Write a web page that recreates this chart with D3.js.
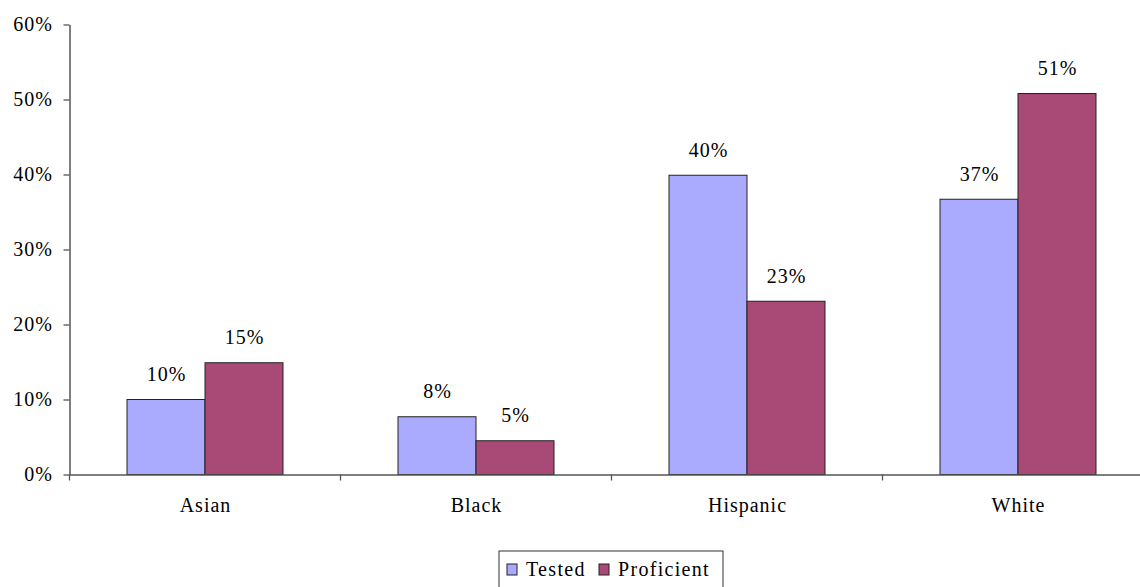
<!DOCTYPE html>
<html>
<head>
<meta charset="utf-8">
<script src="https://cdn.jsdelivr.net/npm/d3@7"></script>
<style>
  html, body { margin: 0; padding: 0; background: #fff; }
  svg { display: block; }
  svg text { font-family: "Times New Roman", Times, "Liberation Serif", "DejaVu Serif", serif !important; fill: #000; }
</style>
</head>
<body>
<svg id="chart" width="1140" height="587"></svg>
<script>
// Share of students by group
const categories = ["Asian", "Black", "Hispanic", "White"];
const seriesNames = ["Tested", "Proficient"];
const tested = [10.0, 7.7, 39.9, 36.7];
const proficient = [14.9, 4.5, 23.1, 50.8];
const yTicks = [0, 10, 20, 30, 40, 50, 60];
const colors = ["#aaaaff", "#a94a76"];

const seriesValues = [tested, proficient];
const rows = categories.map((c, i) => ({
  category: c,
  values: seriesNames.map((s, j) => ({ series: s, value: seriesValues[j][i] }))
}));

const serif = "'Times New Roman', Times, 'Liberation Serif', 'DejaVu Serif', serif";
const svg = d3.select("#chart").attr("font-family", serif);
const plotLeft = 69.5, plotStep = 271, plotBottom = 474.5, plotTop = 24.5;

const x = d3.scaleBand()
  .domain(categories)
  .range([plotLeft, plotLeft + plotStep * categories.length])
  .paddingInner(0.4244)
  .paddingOuter(0.2122);

const xs = d3.scaleBand()
  .domain(seriesNames)
  .range([0, x.bandwidth()]);

const y = d3.scaleLinear().domain([0, 60]).range([plotBottom, plotTop]);
const color = d3.scaleOrdinal().domain(seriesNames).range(colors);

// Bars
const groups = svg.append("g").selectAll("g")
  .data(rows)
  .join("g")
  .attr("transform", d => `translate(${x(d.category)},0)`);

groups.selectAll("rect")
  .data(d => d.values)
  .join("rect")
  .attr("x", d => xs(d.series))
  .attr("y", d => y(d.value))
  .attr("width", xs.bandwidth())
  .attr("height", d => y(0) - y(d.value))
  .attr("fill", d => color(d.series))
  .attr("stroke", "#222")
  .attr("stroke-width", 1);

// Value labels
groups.selectAll("text")
  .data(d => d.values)
  .join("text")
  .attr("x", d => xs(d.series) + xs.bandwidth() / 2 + 0.5)
  .attr("y", d => y(d.value) - 18.5)
  .attr("text-anchor", "middle")
  .attr("font-family", serif)
  .attr("font-size", 20)
  .attr("letter-spacing", 1)
  .text(d => Math.round(d.value) + "%");

// Y axis
const yAxis = svg.append("g")
  .attr("transform", `translate(${plotLeft},0)`)
  .call(d3.axisLeft(y).tickValues(yTicks).tickSize(6).tickSizeOuter(0).tickPadding(10.5)
    .tickFormat(d => d + "%"));
yAxis.attr("font-family", serif);
yAxis.select(".domain").attr("stroke", "#555").attr("stroke-width", 1.5);
yAxis.selectAll(".tick line").attr("stroke", "#555").attr("stroke-width", 1.3);
yAxis.selectAll("text")
  .attr("font-family", serif)
  .attr("font-size", 20)
  .attr("letter-spacing", 1)
  .attr("fill", "#000");

// X axis with ticks at category boundaries
const xAxis = svg.append("g")
  .attr("transform", `translate(0,${plotBottom})`)
  .call(d3.axisBottom(x).tickSize(0).tickSizeOuter(0));
xAxis.attr("font-family", serif);
xAxis.select(".domain").attr("stroke", "#555").attr("stroke-width", 1.5);
xAxis.selectAll(".tick text")
  .attr("y", 37)
  .attr("dy", 0)
  .attr("dx", 0.5)
  .attr("font-family", serif)
  .attr("font-size", 20)
  .attr("letter-spacing", 1)
  .attr("fill", "#000");

const boundaries = d3.range(categories.length + 1).map(i => x.range()[0] + i * x.step());
xAxis.selectAll("line.boundary")
  .data(boundaries)
  .join("line")
  .attr("class", "boundary")
  .attr("x1", d => d).attr("x2", d => d)
  .attr("y1", 0).attr("y2", 6)
  .attr("stroke", "#555")
  .attr("stroke-width", 1.3);

// Legend
const legend = svg.append("g").attr("transform", "translate(499,551)");
legend.append("rect")
  .attr("x", 0).attr("y", 0)
  .attr("width", 224).attr("height", 42)
  .attr("fill", "#fff")
  .attr("stroke", "#333")
  .attr("stroke-width", 1);

const legendX = [8, 100];
const items = legend.selectAll("g.item")
  .data(seriesNames)
  .join("g")
  .attr("class", "item")
  .attr("transform", (d, i) => `translate(${legendX[i]},0)`);
items.append("rect")
  .attr("x", 0).attr("y", 13)
  .attr("width", 10).attr("height", 11)
  .attr("fill", d => color(d))
  .attr("stroke", "#222")
  .attr("stroke-width", 1);
items.append("text")
  .attr("x", 19)
  .attr("y", 25)
  .attr("font-family", serif)
  .attr("font-size", 20)
  .attr("letter-spacing", 1.3)
  .text(d => d);
</script>
</body>
</html>
